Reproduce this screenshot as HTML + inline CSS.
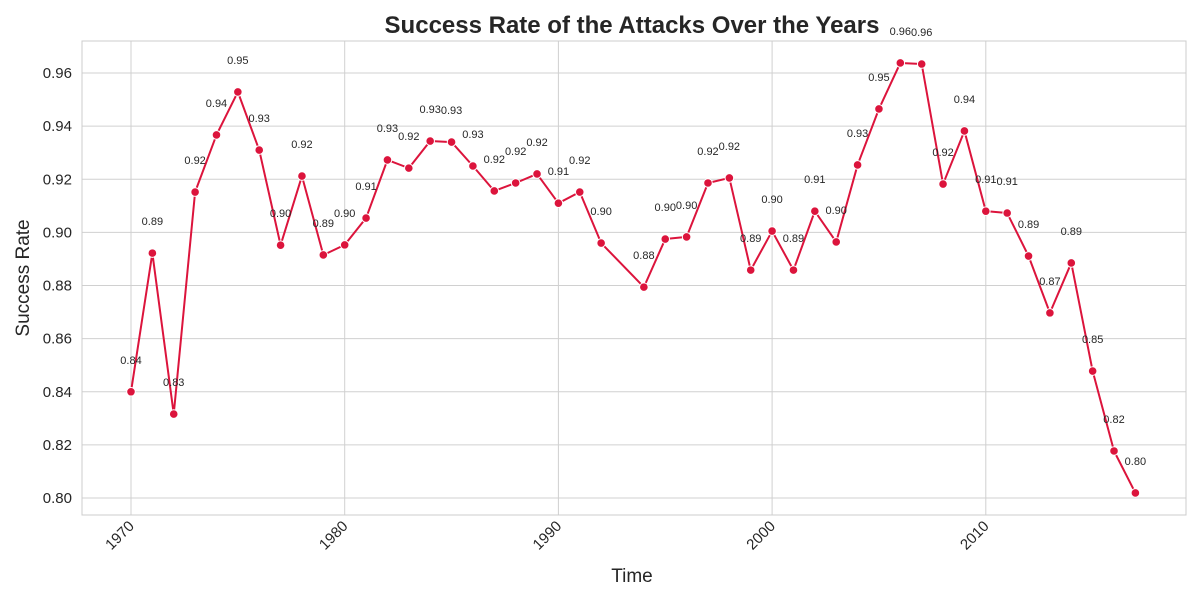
<!DOCTYPE html>
<html><head><meta charset="utf-8"><style>
html,body{margin:0;padding:0;background:#fff;}
svg{display:block;font-family:"Liberation Sans",Arial,sans-serif;}
</style></head><body>
<svg id="chart" width="1200" height="600" xmlns="http://www.w3.org/2000/svg">
<rect x="0" y="0" width="1200" height="600" fill="#fff"/>
<g id="grid"></g>
<g id="axes"></g>
<g id="series"></g>
<text x="632" y="33" text-anchor="middle" font-size="24" font-weight="bold" fill="#262626">Success Rate of the Attacks Over the Years</text>
<text x="632" y="582" text-anchor="middle" font-size="19" fill="#262626">Time</text>
<text transform="translate(29,278) rotate(-90)" text-anchor="middle" font-size="19" fill="#262626">Success Rate</text>
</svg>
<script>
const years=[1970,1971,1972,1973,1974,1975,1976,1977,1978,1979,1980,1981,1982,1983,1984,1985,1986,1987,1988,1989,1990,1991,1992,1994,1995,1996,1997,1998,1999,2000,2001,2002,2003,2004,2005,2006,2007,2008,2009,2010,2011,2012,2013,2014,2015,2016,2017];
const rates=[0.840,0.8922,0.8316,0.9152,0.9367,0.9529,0.931,0.8952,0.9212,0.8915,0.8953,0.9054,0.9273,0.9242,0.9344,0.934,0.925,0.9156,0.9186,0.922,0.911,0.9152,0.896,0.8794,0.8975,0.8983,0.9186,0.9205,0.8858,0.9005,0.8858,0.908,0.8964,0.9254,0.9465,0.9638,0.9634,0.9182,0.9382,0.908,0.9073,0.8911,0.8697,0.8885,0.8478,0.8177,0.8019];
const xTicks=[1970,1980,1990,2000,2010];
const yTicks=[0.80,0.82,0.84,0.86,0.88,0.90,0.92,0.94,0.96];
const NS="http://www.w3.org/2000/svg";
const L=82,R=1186,T=41,B=515;
function xs(v){return 131+(v-1970)*21.37;}
function ys(v){return 498-(v-0.80)*2656;}
function mk(tag,attrs,parent){const e=document.createElementNS(NS,tag);for(const k in attrs)e.setAttribute(k,attrs[k]);parent.appendChild(e);return e;}
const grid=document.getElementById('grid'),axes=document.getElementById('axes'),ser=document.getElementById('series');
xTicks.forEach(t=>{
 const g=mk('line',{x1:xs(t),x2:xs(t),y1:T,y2:B,stroke:'#d0d0d0','stroke-width':1},grid);
 
 
 const tx=mk('text',{transform:`translate(${xs(t)+4},${B+12}) rotate(-45)`,'text-anchor':'end','font-size':15,fill:'#262626'},axes);
 tx.textContent=t;
 
 
});
yTicks.forEach(t=>{
 const g=mk('line',{x1:L,x2:R,y1:ys(t),y2:ys(t),stroke:'#d0d0d0','stroke-width':1},grid);
 
 
 const tx=mk('text',{x:L-10,y:ys(t)+5,'text-anchor':'end','font-size':15,fill:'#262626'},axes);
 tx.textContent=t.toFixed(2);
 
 
});
const fr=mk('rect',{x:L,y:T,width:R-L,height:B-T,fill:'none',stroke:'#cccccc','stroke-width':1},axes);


const pts=years.map((y,i)=>xs(y)+','+ys(rates[i])).join(' ');
const line=mk('polyline',{points:pts,fill:'none',stroke:'#dc143c','stroke-width':2,'stroke-linejoin':'round'},ser);


years.forEach((y,i)=>{
 const c=mk('circle',{cx:xs(y),cy:ys(rates[i]),r:4.3,fill:'#dc143c',stroke:'#fff','stroke-width':1},ser);
 
 
 const t=mk('text',{x:xs(y),y:ys(rates[i])-28,'text-anchor':'middle','font-size':11,fill:'#262626'},ser);
 t.textContent=rates[i].toFixed(2);
 
 
});
</script>
</body></html>
